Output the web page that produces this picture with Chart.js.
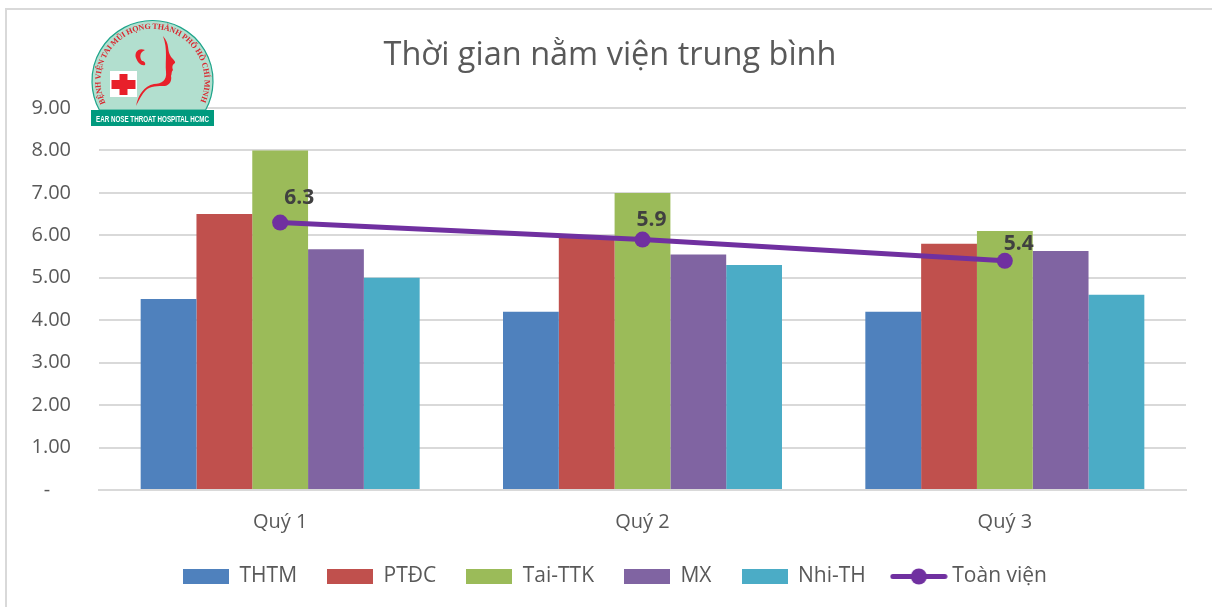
<!DOCTYPE html>
<html>
<head>
<meta charset="utf-8">
<title>Thời gian nằm viện trung bình</title>
<script src="https://cdn.jsdelivr.net/npm/chart.js@4"></script>
<style>
html,body{margin:0;padding:0;background:#fff;overflow:hidden}
#wrap{position:relative;width:1212px;height:607px}
#frame{position:absolute;left:5px;top:8px;width:1300px;height:700px;border:2px solid #D9D9D9;box-sizing:border-box}
#myChart{position:absolute;left:0;top:0}
#logo{position:absolute;left:85px;top:15px}
</style>
</head>
<body>
<div id="wrap">
<div id="frame"></div>
<canvas id="myChart" width="1212" height="607"></canvas>
<svg id="logo" width="135" height="115" viewBox="85 15 135 115" xmlns="http://www.w3.org/2000/svg">
  <defs><path id="arc" d="M 105.5 103 A 52 52 0 1 1 199.5 103"/></defs>
  <path d="M 99.4 110 A 60.5 60.5 0 1 1 205.6 110 Z" fill="#B2DFCF" stroke="#1FA58B" stroke-width="1.2"/>
  <text font-family="Liberation Serif" font-size="8" font-weight="bold" fill="#D9262E"><textPath href="#arc" textLength="207" lengthAdjust="spacing">BỆNH VIỆN TAI MŨI HỌNG THÀNH PHỐ HỒ CHÍ MINH</textPath></text>
  <rect x="110" y="71" width="27" height="26" fill="#fff"/>
  <path d="M119.5 74h8v6h8v9h-8v6h-8v-6h-8v-9h8z" fill="#E8202A"/>
  <path d="M163 36 C170 44 167 50 170 55 C172 59 176 61 175 63 C172 65 172 67 173 70 C171 72 172 74 171 76 C172 80 170 85 165 86 C158 86 150 86 146 90 C142 94 139 100 136 106 C138 95 144 86 154 84 C162 84 167 80 166 72 C165 60 168 50 163 36 Z" fill="#E8202A"/>
  <path d="M145 50 C138 47 134 53 136 58 C138 63 141 66 145 65 C146 63 144 61 142 61 C139 57 140 52 145 50 Z" fill="#E8202A"/>
  <rect x="91" y="110" width="123" height="16" fill="#009A7E"/>
  <text x="152.5" y="121.5" text-anchor="middle" font-family="Liberation Sans Narrow, Liberation Sans" font-size="8.5" font-weight="bold" fill="#fff" textLength="113" lengthAdjust="spacingAndGlyphs">EAR NOSE THROAT HOSPITAL HCMC</text>
</svg>
</div>
<script>
const categories = ['Quý 1', 'Quý 2', 'Quý 3'];
const thtm = [4.5, 4.2, 4.2];
const ptdc = [6.5, 5.95, 5.8];
const taiTtk = [8.0, 7.0, 6.1];
const mx = [5.67, 5.55, 5.63];
const nhiTh = [5.0, 5.3, 4.6];
const toanVien = [6.3, 5.9, 5.4];
const yTicks = [0, 1, 2, 3, 4, 5, 6, 7, 8, 9];

const textColor = '#595959';
const fontName = '"Open Sans", sans-serif';

function barKey(color){
    const c = document.createElement('canvas');
    c.width = 46; c.height = 15;
    const x = c.getContext('2d');
    x.fillStyle = color;
    x.fillRect(0, 0, 46, 15);
    return c;
}

function lineKey(color){
    const c = document.createElement('canvas');
    c.width = 58; c.height = 17;
    const x = c.getContext('2d');
    x.strokeStyle = color;
    x.lineWidth = 5;
    x.lineCap = 'round';
    x.beginPath();
    x.moveTo(3, 8.5);
    x.lineTo(55, 8.5);
    x.stroke();
    x.fillStyle = color;
    x.beginPath();
    x.arc(29, 8.5, 8, 0, Math.PI * 2);
    x.fill();
    return c;
}

function barSet(label, data, color){
    return {
        type: 'bar', label: label, data: data, order: 2,
        backgroundColor: color, borderWidth: 0,
        categoryPercentage: 0.77, barPercentage: 1,
        pointStyle: barKey(color)
    };
}

// value labels above the line, offset to the right like the original
const lineLabels = {
    id: 'lineLabels',
    afterDatasetsDraw(chart){
        const meta = chart.getDatasetMeta(5);
        const ctx = chart.ctx;
        const off = [[19, -25], [9, -20], [14, -17]];
        ctx.save();
        ctx.font = 'bold 21px ' + fontName;
        ctx.fillStyle = '#404040';
        ctx.textAlign = 'center';
        ctx.textBaseline = 'middle';
        meta.data.forEach((p, i) => {
            ctx.fillText(toanVien[i].toFixed(1), p.x + off[i][0], p.y + off[i][1]);
        });
        ctx.restore();
    }
};

// title and legend are not centred on the plot in the original
const nudgeBoxes = {
    id: 'nudgeBoxes',
    afterLayout(chart){
        chart.titleBlock.left += 4.5;
        chart.titleBlock.right += 4.5;
        chart.legend.left += 9.5;
        chart.legend.right += 9.5;
    }
};

new Chart(document.getElementById('myChart').getContext('2d'), {
    data: {
        labels: categories,
        datasets: [
            barSet('THTM', thtm, '#4F81BD'),
            barSet('PTĐC', ptdc, '#C0504D'),
            barSet('Tai-TTK', taiTtk, '#9BBB59'),
            barSet('MX', mx, '#8064A2'),
            barSet('Nhi-TH', nhiTh, '#4BACC6'),
            {
                type: 'line', label: 'Toàn viện', data: toanVien, order: 1,
                borderColor: '#7030A0', backgroundColor: '#7030A0',
                borderWidth: 5, pointRadius: 8, pointHoverRadius: 8,
                pointBackgroundColor: '#7030A0', pointBorderWidth: 0,
                tension: 0, fill: false
            }
        ]
    },
    options: {
        responsive: false,
        animation: false,
        layout: { padding: { left: 25, right: 26, top: 36, bottom: 10 } },
        plugins: {
            title: {
                display: true,
                text: 'Thời gian nằm viện trung bình',
                color: textColor,
                font: { family: fontName, size: 32.5, weight: 'normal' },
                padding: { top: 0, bottom: 33 }
            },
            legend: {
                position: 'bottom',
                labels: {
                    color: textColor,
                    font: { family: fontName, size: 21 },
                    usePointStyle: true,
                    pointStyleWidth: 46,
                    boxHeight: 15,
                    padding: 30,
                    generateLabels(chart){
                        return chart.data.datasets.map((d, i) => ({
                            text: d.label,
                            fontColor: textColor,
                            datasetIndex: i,
                            pointStyle: d.type === 'line' ? lineKey('#7030A0') : d.pointStyle,
                            lineWidth: 0,
                            strokeStyle: 'transparent',
                            fillStyle: 'transparent'
                        }));
                    }
                }
            },
            tooltip: { enabled: false }
        },
        scales: {
            x: {
                grid: { display: false },
                border: { color: '#D9D9D9', width: 2 },
                ticks: { color: textColor, font: { family: fontName, size: 20 }, padding: 12 },
                afterFit(scale){ scale.height = 46; }
            },
            y: {
                min: 0, max: 9,
                afterBuildTicks(scale){ scale.ticks = yTicks.map(v => ({ value: v })); },
                afterFit(scale){ scale.width = 74; },
                grid: { color: '#D9D9D9', lineWidth: 2, drawTicks: false },
                border: { display: false },
                ticks: {
                    color: textColor,
                    font: { family: fontName, size: 20 },
                    padding: 28,
                    callback: v => v === 0 ? '-    ' : v.toFixed(2)
                }
            }
        }
    },
    plugins: [lineLabels, nudgeBoxes]
});
</script>
</body>
</html>
